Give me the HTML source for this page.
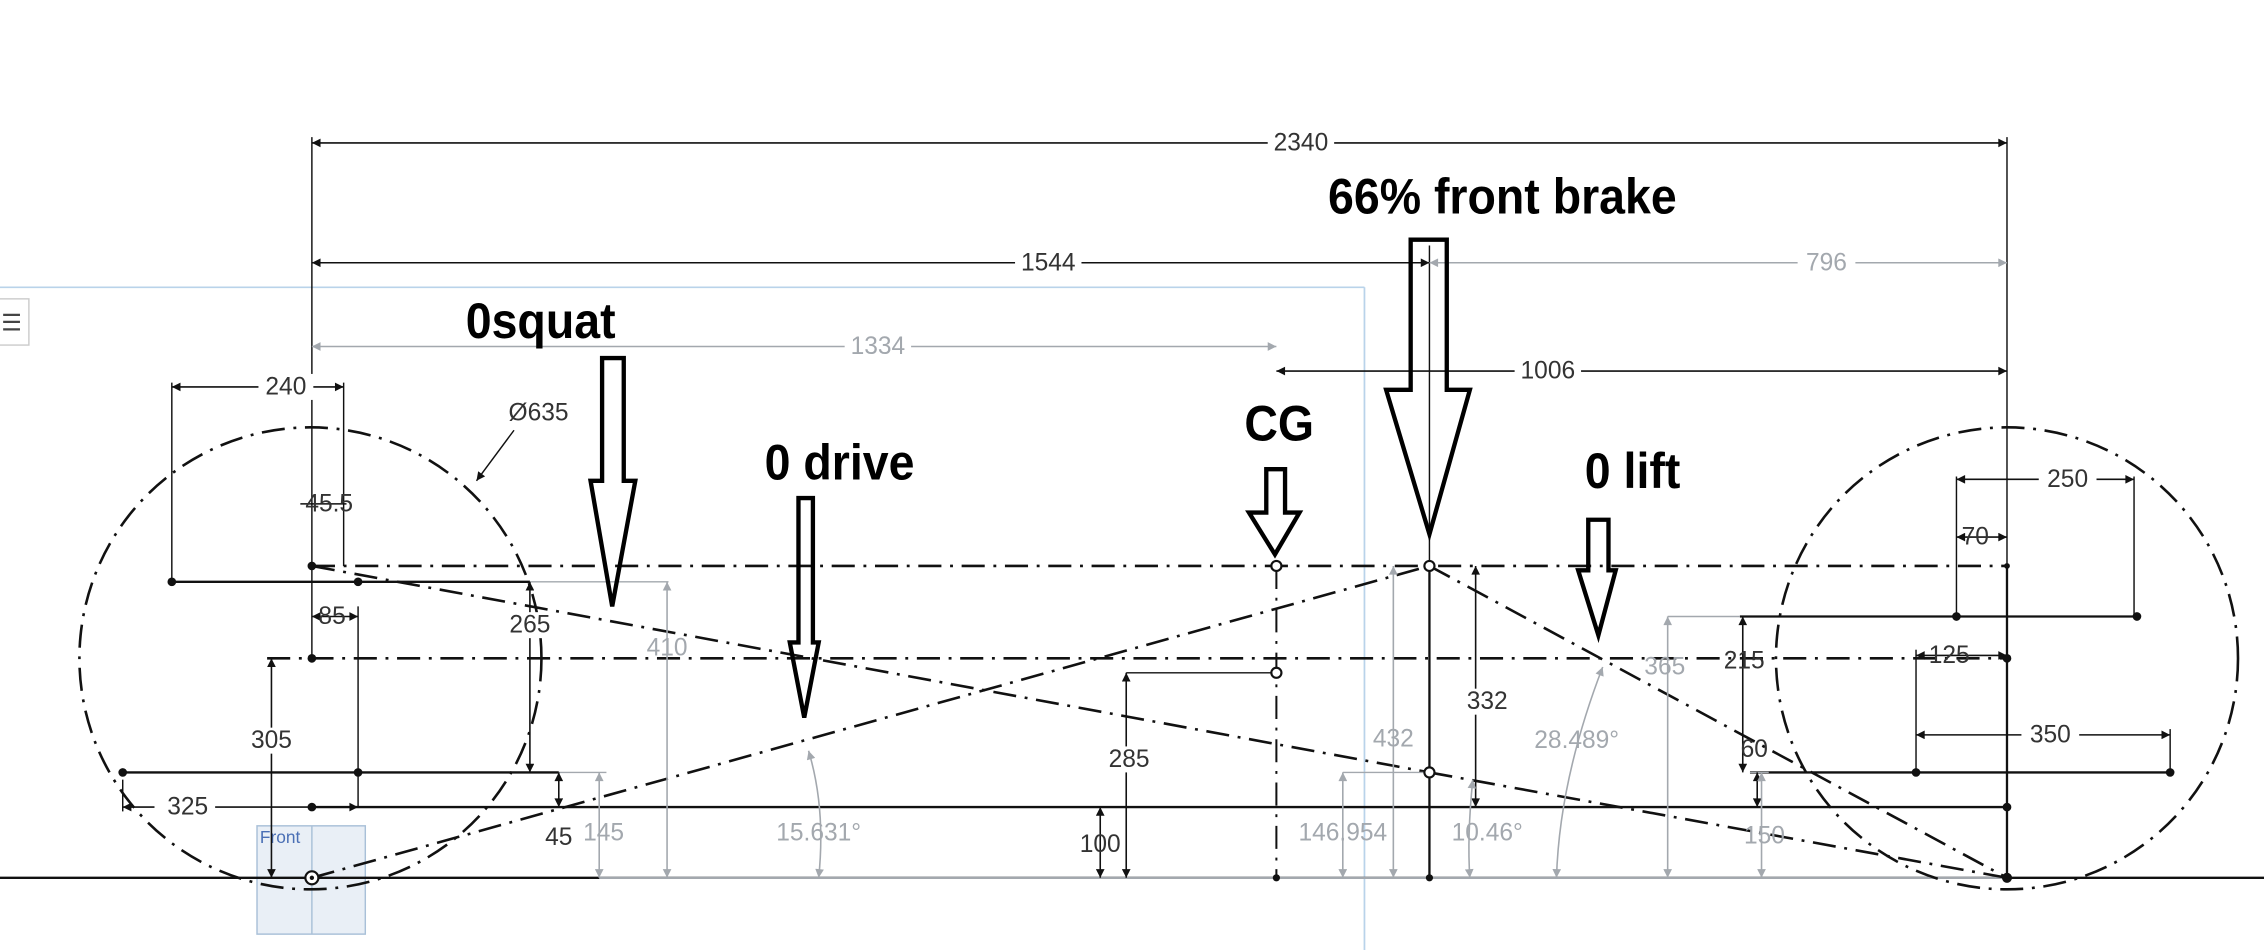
<!DOCTYPE html>
<html><head><meta charset="utf-8"><style>
html,body{margin:0;padding:0;background:#fff;width:2264px;height:950px;overflow:hidden}
svg{display:block}
text{font-family:"Liberation Sans",sans-serif}
.d{font-size:17px;fill:#333;text-anchor:middle;dominant-baseline:central}
.g{font-size:17px;fill:#a3a8ae;text-anchor:middle;dominant-baseline:central}
.big{font-size:35px;font-weight:bold;fill:#000;text-anchor:middle}
</style></head><body>
<svg width="2264" height="950" viewBox="0 0 1568 658" preserveAspectRatio="none" xmlns="http://www.w3.org/2000/svg">
<defs>
<marker id="a" viewBox="0 0 10 10" refX="10" refY="5" markerWidth="9" markerHeight="6" orient="auto-start-reverse" markerUnits="userSpaceOnUse"><path d="M0,0L10,5L0,10z" fill="#111"/></marker>
<marker id="ag" viewBox="0 0 10 10" refX="10" refY="5" markerWidth="9" markerHeight="6" orient="auto-start-reverse" markerUnits="userSpaceOnUse"><path d="M0,0L10,5L0,10z" fill="#a3a8ae"/></marker>
</defs>
<g stroke="#b9d3ea" stroke-width="1.2" fill="none">
<line x1="0" y1="199" x2="945" y2="199"/><line x1="945" y1="199" x2="945" y2="658"/>
</g>
<rect x="-2" y="207" width="22" height="32" fill="#fff" stroke="#ccc"/>
<text x="8" y="229" font-size="16" fill="#444" text-anchor="middle">☰</text>
<rect x="178" y="572" width="75" height="75" fill="#e9eff6" stroke="#a9c0d8"/>
<line x1="216" y1="572" x2="216" y2="647" stroke="#a9c0d8"/>
<text x="180" y="584" font-size="12" fill="#4a6fb5">Front</text>

<line x1="0" y1="608" x2="1568" y2="608" stroke="#111" stroke-width="1.6"/>
<line x1="415" y1="608" x2="1390" y2="608" stroke="#a3a8ae" stroke-width="1.6"/>

<g fill="none" stroke="#111" stroke-width="1.8" stroke-dasharray="16,6,2,6">
<circle cx="215" cy="456" r="160"/>
<circle cx="1390" cy="456" r="160"/>
<line x1="216" y1="392" x2="1390" y2="392"/>
<line x1="185" y1="456" x2="1390" y2="456"/>
<line x1="216" y1="392" x2="990" y2="535"/>
<line x1="990" y1="535" x2="1390" y2="608"/>
<line x1="216" y1="608" x2="990" y2="392"/>
<line x1="990" y1="392" x2="1390" y2="608"/>
<line x1="884" y1="392" x2="884" y2="608" stroke-width="1.4"/>
</g>

<g stroke="#111" stroke-width="1.6" fill="none">
<line x1="216" y1="559" x2="1390" y2="559"/>
<line x1="119" y1="403" x2="367" y2="403"/>
<line x1="85" y1="535" x2="387" y2="535"/>
<line x1="1205" y1="427" x2="1480" y2="427"/>
<line x1="1212" y1="535" x2="1503" y2="535"/>
<line x1="990" y1="392" x2="990" y2="608"/>
<line x1="1390" y1="392" x2="1390" y2="608"/>
</g>
<g stroke="#111" stroke-width="1" fill="none">
<line x1="216" y1="95" x2="216" y2="456"/>
<line x1="1390" y1="95" x2="1390" y2="392"/>
<line x1="990" y1="170" x2="990" y2="392"/>
<line x1="119" y1="265" x2="119" y2="403"/>
<line x1="238" y1="265" x2="238" y2="392"/>
<line x1="248" y1="420" x2="248" y2="559"/>
<line x1="780" y1="466" x2="884" y2="466"/>
<line x1="1355" y1="330" x2="1355" y2="427"/>
<line x1="1478" y1="330" x2="1478" y2="427"/>
<line x1="1327" y1="450" x2="1327" y2="535"/>
<line x1="1503" y1="505" x2="1503" y2="535"/>
<line x1="85" y1="540" x2="85" y2="562"/>
</g>
<g stroke="#a3a8ae" stroke-width="1" fill="none">
<line x1="367" y1="403" x2="463" y2="403"/>
<line x1="387" y1="535" x2="420" y2="535"/>
<line x1="1155" y1="427" x2="1205" y2="427"/>
<line x1="930" y1="535" x2="990" y2="535"/>
<line x1="1212" y1="535" x2="1225" y2="535"/>
</g>

<g stroke="#111" stroke-width="1.1" fill="none" marker-start="url(#a)" marker-end="url(#a)">
<line x1="216" y1="99" x2="1390" y2="99"/>
<line x1="216" y1="182" x2="990" y2="182"/>
<line x1="884" y1="257" x2="1390" y2="257"/>
<line x1="119" y1="268" x2="238" y2="268"/>
<line x1="367" y1="403" x2="367" y2="535"/>
<line x1="188" y1="456" x2="188" y2="608"/>
<line x1="85" y1="559" x2="248" y2="559"/>
<line x1="387" y1="535" x2="387" y2="559"/>
<line x1="780" y1="466" x2="780" y2="608"/>
<line x1="762" y1="559" x2="762" y2="608"/>
<line x1="1022" y1="392" x2="1022" y2="559"/>
<line x1="1207" y1="427" x2="1207" y2="535"/>
<line x1="1217" y1="535" x2="1217" y2="559"/>
<line x1="1355" y1="332" x2="1478" y2="332"/>
<line x1="1355" y1="372" x2="1390" y2="372"/>
<line x1="1327" y1="454" x2="1390" y2="454"/>
<line x1="1327" y1="509" x2="1503" y2="509"/>
<line x1="216" y1="427" x2="248" y2="427"/>
</g>
<line x1="330" y1="333" x2="356" y2="298" stroke="#111" marker-start="url(#a)"/>
<line x1="208" y1="349" x2="240" y2="349" stroke="#111"/>
<g stroke="#a3a8ae" stroke-width="1.1" fill="none" marker-start="url(#ag)" marker-end="url(#ag)">
<line x1="216" y1="240" x2="884" y2="240"/>
<line x1="990" y1="182" x2="1390" y2="182"/>
<line x1="462" y1="403" x2="462" y2="608"/>
<line x1="415" y1="535" x2="415" y2="608"/>
<line x1="930" y1="535" x2="930" y2="608"/>
<line x1="965" y1="392" x2="965" y2="608"/>
<line x1="1155" y1="427" x2="1155" y2="608"/>
<line x1="1220" y1="535" x2="1220" y2="608"/>
<path d="M560,520 Q572,560 567,608"/>
<path d="M1020,540 Q1016,580 1018,608"/>
<path d="M1110,462 Q1080,540 1078,608"/>
</g>

<g fill="#fff">
<rect x="878" y="90" width="46" height="18"/><rect x="703" y="173" width="46" height="18"/>
<rect x="1245" y="173" width="40" height="18"/><rect x="585" y="231" width="46" height="18"/>
<rect x="1049" y="248" width="46" height="18"/><rect x="179" y="259" width="38" height="18"/>
<rect x="357" y="424" width="24" height="18"/><rect x="170" y="504" width="38" height="18"/>
<rect x="107" y="550" width="42" height="18"/><rect x="766" y="517" width="34" height="18"/>
<rect x="1013" y="477" width="34" height="18"/><rect x="1412" y="323" width="40" height="18"/>
<rect x="1400" y="500" width="40" height="18"/>
</g>
<text class="d" x="901" y="99">2340</text>
<text class="d" x="726" y="182">1544</text>
<text class="g" x="1265" y="182">796</text>
<text class="g" x="608" y="240">1334</text>
<text class="d" x="1072" y="257">1006</text>
<text class="d" x="198" y="268">240</text>
<text class="d" x="373" y="286">Ø635</text>
<text class="d" x="228" y="349">45.5</text>
<text class="d" x="230" y="427">85</text>
<text class="d" x="367" y="433">265</text>
<text class="g" x="462" y="449">410</text>
<text class="d" x="188" y="513">305</text>
<text class="d" x="130" y="559">325</text>
<text class="d" x="387" y="580">45</text>
<text class="g" x="418" y="577">145</text>
<text class="g" x="567" y="577">15.631°</text>
<text class="d" x="782" y="526">285</text>
<text class="d" x="762" y="585">100</text>
<text class="g" x="930" y="577">146.954</text>
<text class="g" x="965" y="512">432</text>
<text class="d" x="1030" y="486">332</text>
<text class="g" x="1030" y="577">10.46°</text>
<text class="g" x="1092" y="513">28.489°</text>
<text class="g" x="1153" y="462">365</text>
<text class="d" x="1208" y="458">215</text>
<text class="d" x="1215" y="519">60</text>
<text class="g" x="1222" y="579">150</text>
<text class="d" x="1432" y="332">250</text>
<text class="d" x="1368" y="372">70</text>
<text class="d" x="1350" y="454">125</text>
<text class="d" x="1420" y="509">350</text>

<g fill="#111">
<circle cx="216" cy="392" r="3"/><circle cx="216" cy="456" r="3"/><circle cx="119" cy="403" r="3"/>
<circle cx="248" cy="403" r="3"/><circle cx="85" cy="535" r="3"/><circle cx="248" cy="535" r="3"/>
<circle cx="216" cy="559" r="3"/><circle cx="1355" cy="427" r="3"/><circle cx="1480" cy="427" r="3"/>
<circle cx="1327" cy="535" r="3"/><circle cx="1503" cy="535" r="3"/><circle cx="1390" cy="456" r="3"/>
<circle cx="1390" cy="559" r="3"/><circle cx="1390" cy="608" r="3.5"/><circle cx="1390" cy="392" r="2"/>
<circle cx="884" cy="608" r="2.5"/><circle cx="990" cy="608" r="2.5"/>
</g>
<g fill="#fff" stroke="#111" stroke-width="1.5">
<circle cx="884" cy="392" r="3.5"/><circle cx="884" cy="466" r="3.5"/><circle cx="990" cy="392" r="3.5"/>
<circle cx="990" cy="535" r="3.5"/><circle cx="216" cy="608" r="4.5"/>
</g>
<circle cx="216" cy="608" r="1.5" fill="#111"/>

<g fill="none" stroke="#000" stroke-width="3" stroke-linejoin="miter">
<path d="M417,248H432V333H440L424,420L409,333H417Z"/>
<path d="M553,345H563V445H567L557,497L547,445H553Z"/>
<path d="M877,325H890V355H900L883,384L865,355H877Z"/>
<path d="M977,166H1002V270H1018L990,370L960,270H977Z"/>
<path d="M1100,360H1114V395H1119L1107,440L1093,395H1100Z"/>
</g>
<g transform="scale(0.92,1)">
<text class="big" x="407" y="234">0squat</text>
<text class="big" x="632" y="332">0 drive</text>
<text class="big" x="963" y="305">CG</text>
<text class="big" x="1131" y="148">66% front brake</text>
<text class="big" x="1229" y="338">0 lift</text>
</g>
</svg>
</body></html>
